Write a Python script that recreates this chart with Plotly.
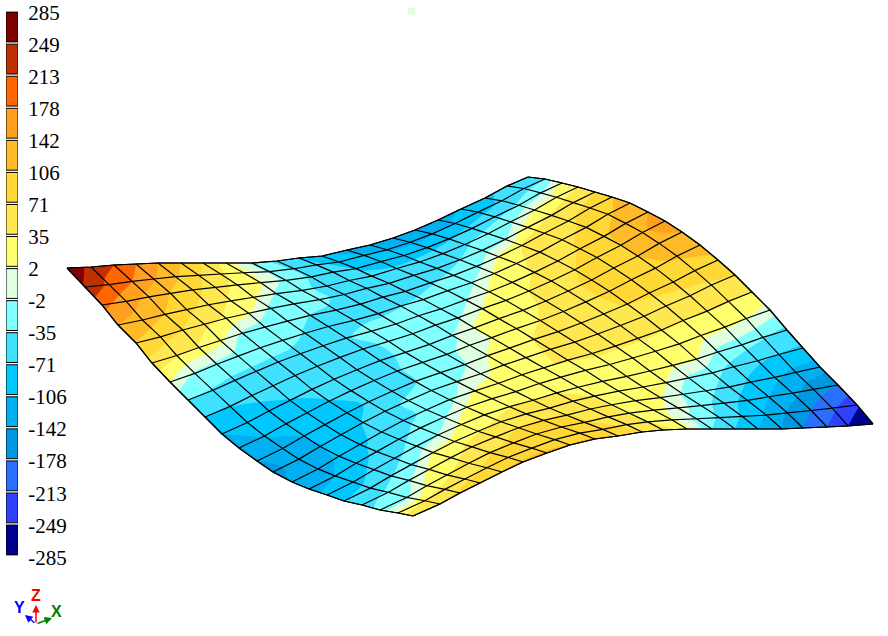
import numpy as np
import plotly.graph_objects as go

# Contour levels and colours (top to bottom of the legend)
level_labels = ["285","249","213","178","142","106","71","35","2","-2","-35","-71","-106","-142","-178","-213","-249","-285"]
level_values = [285,249,213,178,142,106,71,35,2,-2,-35,-71,-106,-142,-178,-213,-249,-285]
band_colors = ["#7F0000","#C03000","#FF6600","#FFA020","#FFBA28","#FFD835","#FFE84F","#FFFF6E","#E0FFE0",
               "#80FFFF","#40E0FF","#00C8FF","#00B0F0","#0098E0","#2A70FF","#3040FF","#000090"]

# Mesh edges
edge_ab_x = [67,91,114,136,158,181,203,226,252,277,299,322,347,370,393,415,438,461,485,507,528]
edge_ab_y = [268,267,265,264,263,263,263,263,263,261,258,256,250,245,238,230,220,209,198,186,177]
edge_dc_x = [413,440,460,480,502,523,547,570,595,618,642,663,687,712,735,758,782,803,827,848,873]
edge_dc_y = [516,504,493,483,472,462,453,445,439,436,432,430,429,429,429,429,429,428,427,426,424]
edge_ad_x = [67,85,102,118,136,152,170,188,205,222,239,257,273,292,309,327,344,362,380,398,413]
edge_ad_y = [268,287,305,325,343,363,382,400,417,434,448,461,472,482,489,495,501,505,510,513,516]
edge_bc_x = [528,545,562,578,595,612,630,648,665,682,700,718,735,752,770,787,803,820,838,857,873]
edge_bc_y = [177,179,183,187,192,197,203,212,221,232,245,260,275,292,310,330,348,367,385,405,424]

# Nodal stress values, one row per mesh line
stress = [
 [285,235,213,178,142,106,68,20,-15,-45,-75,-100,-120,-130,-135,-135,-125,-100,-78,-60,-45],
 [245,205,178,145,110,75,40,14,-10,-40,-62,-85,-100,-110,-115,-110,-100,-85,-65,-48,-35],
 [190,160,130,105,85,52,26,6,-16,-40,-58,-72,-82,-88,-85,-75,-60,-45,-28,-8,18],
 [142,125,105,82,55,30,12,-8,-28,-45,-58,-68,-68,-60,-52,-40,-25,-12,4,20,38],
 [105,85,70,42,30,8,-12,-25,-32,-40,-48,-52,-50,-45,-35,-20,-3,22,40,55,71],
 [60,40,30,10,-8,-25,-30,-35,-38,-40,-42,-42,-38,-30,-15,5,36,50,65,82,106],
 [3,-6,-12,-18,-22,-30,-36,-38,-38,-38,-36,-32,-22,-8,8,30,45,62,78,100,125],
 [-35,-38,-42,-42,-42,-40,-40,-36,-32,-28,-24,-16,-6,6,20,38,52,75,100,125,142],
 [-71,-70,-64,-58,-54,-50,-46,-40,-32,-26,-18,-8,3,18,35,52,70,88,106,135,160],
 [-106,-92,-80,-72,-66,-58,-50,-42,-30,-20,-5,2,12,28,40,62,78,92,106,125,142],
 [-118,-105,-92,-82,-72,-62,-50,-38,-22,-8,-1,6,20,36,50,65,76,88,100,110,118],
 [-142,-120,-105,-92,-78,-68,-52,-36,-18,-4,3,14,36,50,58,66,72,78,82,88,100],
 [-150,-128,-108,-90,-70,-45,-30,-20,-6,1,14,28,38,42,45,48,50,55,60,66,73],
 [-140,-122,-100,-78,-58,-42,-30,-15,4,16,26,34,36,38,38,38,37,36,36,36,36],
 [-115,-105,-85,-62,-42,-28,-8,8,22,30,30,28,28,28,26,24,20,14,8,4,0],
 [-100,-85,-62,-42,-25,-2,12,26,34,36,34,26,24,22,16,8,3,-10,-22,-32,-45],
 [-72,-58,-38,-20,5,20,32,40,50,52,45,33,22,10,3,-8,-25,-45,-65,-72,-75],
 [-48,-28,-8,8,25,45,60,72,72,72,62,32,20,8,-5,-25,-50,-78,-100,-115,-125],
 [-28,-10,10,30,50,68,78,82,80,75,55,32,15,0,-22,-50,-85,-105,-130,-160,-178],
 [15,35,48,60,78,88,92,90,90,88,62,35,12,-12,-40,-75,-110,-145,-178,-205,-245],
 [55,72,80,95,108,110,112,108,110,108,71,45,28,-35,-71,-105,-142,-178,-213,-249,-285],
]

n = len(edge_ab_x)
a = list(range(n))
b = list(range(n))


def patch(ab, dc, ad, bc):
    ab, dc, ad, bc = map(np.array, (ab, dc, ad, bc))
    u = np.linspace(0, 1, n)
    U, V = np.meshgrid(u, u)
    return ((1 - V) * ab[None, :] + V * dc[None, :] + (1 - U) * ad[:, None] + U * bc[:, None]
            - ((1 - U) * (1 - V) * ab[0] + U * (1 - V) * ab[-1] + (1 - U) * V * dc[0] + U * V * dc[-1]))


mesh_x = patch(edge_ab_x, edge_dc_x, edge_ad_x, edge_bc_x)
mesh_y = patch(edge_ab_y, edge_dc_y, edge_ad_y, edge_bc_y)

# The band edges are not evenly spaced, so contour on the band index
ascending = level_values[::-1]
band_index = np.interp(np.array(stress, float), ascending, np.arange(len(ascending)))
colors_up = band_colors[::-1]
nb = len(colors_up)
colorscale = []
for k, c in enumerate(colors_up):
    colorscale += [[k / nb, c], [(k + 1) / nb, c]]

fig = go.Figure()
fig.add_trace(go.Contourcarpet(
    carpet="mesh", a=a, b=b, z=band_index.tolist(), autocontour=False,
    contours=dict(start=0, end=nb, size=1, coloring="fill", showlines=False),
    line=dict(width=0), colorscale=colorscale, zauto=False, zmin=0, zmax=nb,
    showscale=False, xaxis="x", yaxis="y",
))
axis_style = dict(tickmode="linear", tick0=0, dtick=1, showticklabels="none", gridcolor="black", gridwidth=1.2,
                  minorgridcount=0, startlinecolor="black", endlinecolor="black", startlinewidth=1.2,
                  endlinewidth=1.2, smoothing=0, showline=False, linewidth=0)
fig.add_trace(go.Carpet(carpet="mesh", a=a, b=b, x=mesh_x.tolist(), y=mesh_y.tolist(),
                        aaxis=axis_style, baxis=axis_style, xaxis="x", yaxis="y"))

# Legend column
fig.add_trace(go.Bar(x=[0] * nb, y=[0.93] * nb, base=[k + 0.035 for k in range(nb)], width=1,
                     marker=dict(color=colors_up, line=dict(color="black", width=1)),
                     xaxis="x2", yaxis="y2", showlegend=False, hoverinfo="skip"))

# Small stray marker at the top and the triad
fig.add_trace(go.Scatter(x=[411.5], y=[11], mode="markers", marker=dict(symbol="square", size=7, color="#E0FFE0"),
                         showlegend=False, hoverinfo="skip", xaxis="x", yaxis="y"))

triad = [("X", 52, 618, 56, 611, "#008000"), ("Y", 25, 615, 19, 607, "#0000FF"), ("Z", 36, 605, 36, 595, "#FF0000")]
annotations = []
for name, x1, y1, tx, ty, col in triad:
    annotations.append(dict(x=x1, y=y1, ax=36, ay=624, xref="x", yref="y", axref="x", ayref="y", text="",
                            showarrow=True, arrowhead=2, arrowsize=1, arrowwidth=1.5, arrowcolor=col))
    annotations.append(dict(x=tx, y=ty, xref="x", yref="y", text=f"<b>{name}</b>", showarrow=False,
                            font=dict(family="Liberation Sans", size=16, color=col)))

unit_px = (556 - 11) / nb
fig.update_layout(
    template="none",
    width=888, height=636, margin=dict(l=0, r=0, t=0, b=0, pad=0), paper_bgcolor="white", plot_bgcolor="white",
    showlegend=False, annotations=annotations,
    xaxis=dict(range=[0, 888], visible=False, domain=[0, 1], automargin=False),
    yaxis=dict(range=[636, 0], visible=False, domain=[0, 1], automargin=False),
    xaxis2=dict(domain=[6 / 888, 18 / 888], range=[-0.5, 0.5], visible=False, anchor="y2", automargin=False),
    yaxis2=dict(domain=[(636 - 556 - 0.2 * unit_px) / 636, (636 - 11) / 636], range=[-0.2, nb], anchor="x2", side="right",
                automargin=False,
                tickmode="array", tickvals=[k - 0.04 for k in range(nb + 1)], ticktext=level_labels[::-1],
                ticks="outside", ticklen=5, tickcolor="white", showgrid=False, zeroline=False, showline=False,
                tickfont=dict(family="Liberation Serif", size=21, color="black")),
)
fig.write_html("out.html", config={"displayModeBar": False}, post_script="document.body.style.margin='0';")
